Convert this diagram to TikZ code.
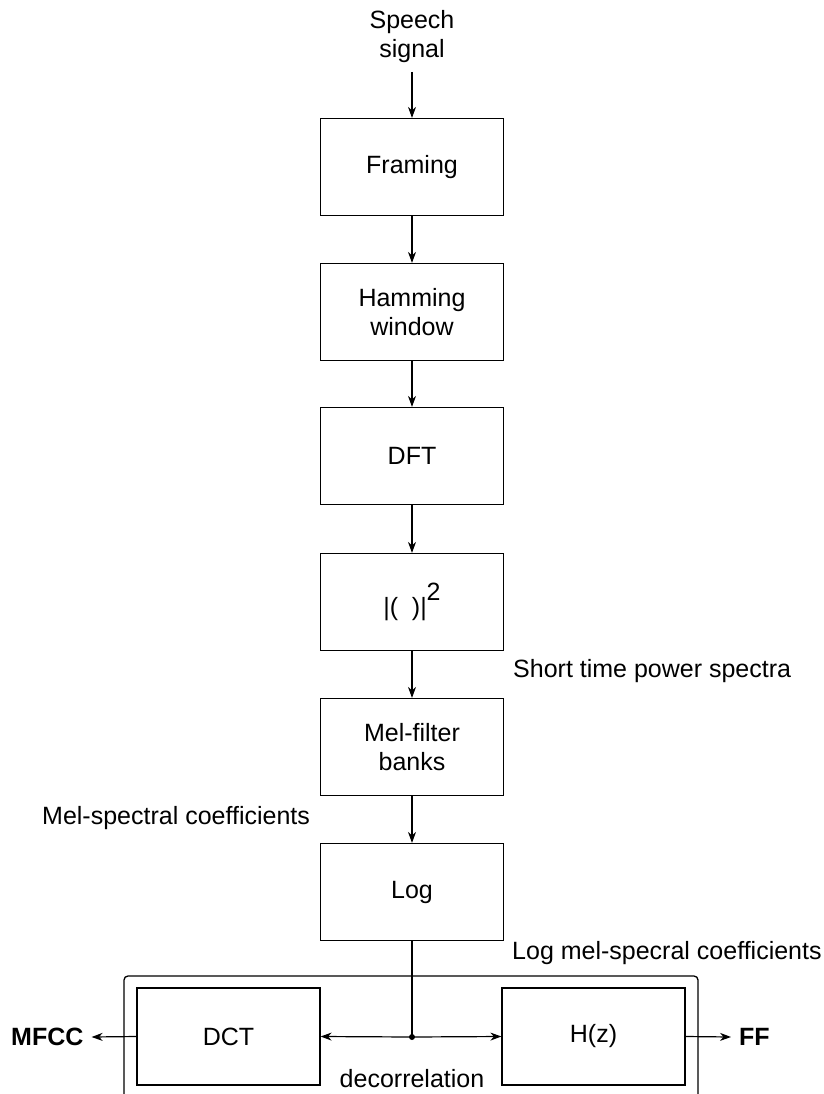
\documentclass[tikz,border=0pt]{standalone}
\usepackage{fontspec}
\setmainfont{Liberation Sans}
\usetikzlibrary{arrows.meta}
\begin{document}
\begin{tikzpicture}[x=1pt,y=-1pt,
  blk/.style={draw,line width=1.2pt,minimum width=183pt,minimum height=97pt,inner sep=0pt,align=center,font=\fontsize{25}{29}\selectfont},
  lbl/.style={inner sep=0pt,align=center,font=\fontsize{25}{29}\selectfont},
  arr/.style={line width=1.2pt,-{Stealth[length=11pt,width=8pt,inset=3.5pt]}},
  ln/.style={line width=1.2pt}]
\useasboundingbox (0,0) rectangle (823,1094);
\clip (0,0) rectangle (823,1094);
\node[lbl,anchor=base] (sp) at (412,58) {Speech\\signal};
\coordinate (sps) at (412,72);
\node[blk] (fr) at (412,167) {Framing};
\node[blk] (hm) at (412,312) {Hamming\\window};
\node[blk] (dft) at (412,456) {DFT};
\node[blk] (pw) at (412,602) {|(\hspace{0.55em})|\raisebox{0.62em}{2}};
\node[blk] (mel) at (412,747) {Mel-filter\\banks};
\node[blk] (log) at (412,892) {Log};
\node[blk] (dct) at (228.5,1036.5) {DCT};
\node[blk] (hz) at (593.5,1036.5) {H(z)};
\coordinate (j) at (412,1037);
\node[lbl,anchor=west] (stp) at (513,671) {Short time power spectra};
\node[lbl,anchor=west] (msc) at (42,818) {Mel-spectral coefficients};
\node[lbl,anchor=west] (lmsc) at (512,953) {Log mel-specral coefficients};
\node[lbl,anchor=base] (dec) at (412,1087) {decorrelation};
\node[lbl,anchor=west,font=\fontsize{25}{29}\selectfont\bfseries] (mfcc) at (11,1037) {MFCC};
\node[lbl,anchor=west,font=\fontsize{25}{29}\selectfont\bfseries] (ff) at (739,1037) {FF};
% outer frame
\draw[line width=1.3pt,rounded corners=4pt] (124,1100) -- (124,976) -- (698,976) -- (698,1100);
% connectors
\draw[arr] (sps) -- (fr.north);
\draw[arr] (fr) -- (hm);
\draw[arr] (hm) -- (dft);
\draw[arr] (dft) -- (pw);
\draw[arr] (pw) -- (mel);
\draw[arr] (mel) -- (log);
\draw[ln] (log.south) -- (j);
\draw[arr] (j) -- (dct.east);
\draw[arr] (j) -- (hz.west);
\fill (j) circle (3pt);
\draw[arr] (dct.west) -- ([xshift=8pt]mfcc.east);
\draw[arr] (hz.east) -- ([xshift=-8pt]ff.west);
\end{tikzpicture}
\end{document}
